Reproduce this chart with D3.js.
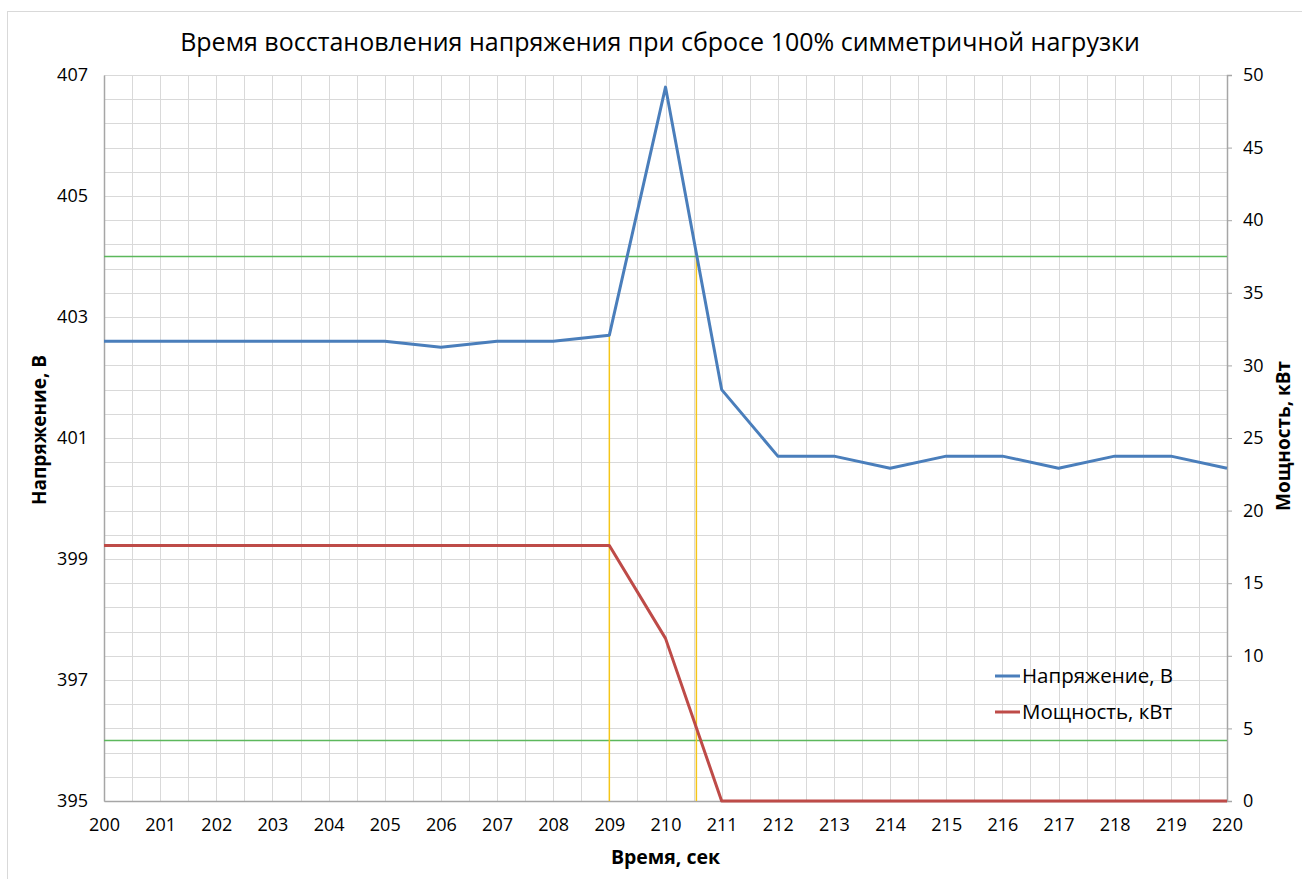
<!DOCTYPE html>
<html>
<head>
<meta charset="utf-8">
<title>Время восстановления напряжения</title>
<script src="https://d3js.org/d3.v7.min.js"></script>
<style>
  body { margin: 0; background: #fff; }
  svg text { font-family: "Open Sans", "Noto Sans", sans-serif; fill: #000; }
</style>
</head>
<body>
<div id="chart"></div>
<script>
// data
const times = [200, 201, 202, 203, 204, 205, 206, 207, 208, 209, 210,
               211, 212, 213, 214, 215, 216, 217, 218, 219, 220];
const voltage = [402.6, 402.6, 402.6, 402.6, 402.6, 402.6, 402.5, 402.6, 402.6, 402.7, 406.8,
                 401.8, 400.7, 400.7, 400.5, 400.7, 400.7, 400.5, 400.7, 400.7, 400.5];
const power = [17.6, 17.6, 17.6, 17.6, 17.6, 17.6, 17.6, 17.6, 17.6, 17.6, 11.2,
               0, 0, 0, 0, 0, 0, 0, 0, 0, 0];
const limitsV = [404, 396];          // green lines, +-1%
const markers = [                    // yellow verticals: time, top voltage
  { t: 209, v: 402.7 },
  { t: 210.55, v: 404 }
];
const voltTicks = [395, 397, 399, 401, 403, 405, 407];
const powerTicks = [0, 5, 10, 15, 20, 25, 30, 35, 40, 45, 50];
const timeTicks = d3.range(200, 221, 1);
const seriesNames = ["Напряжение, В", "Мощность, кВт"];

const W = 1302, H = 879;
const m = { top: 75, right: 75, bottom: 78, left: 104 };
const iw = W - m.left - m.right, ih = H - m.top - m.bottom;

const svg = d3.select("#chart").append("svg")
  .attr("width", W).attr("height", H);

// chart area frame
svg.append("rect")
  .attr("x", 7.5).attr("y", 11.5)
  .attr("width", W).attr("height", H)
  .attr("fill", "none").attr("stroke", "#d9d9d9");

const g = svg.append("g").attr("transform", `translate(${m.left},${m.top})`);

const x = d3.scaleLinear().domain([200, 220]).range([0, iw]);
const yV = d3.scaleLinear().domain([395, 407]).range([ih, 0]);
const yP = d3.scaleLinear().domain([0, 50]).range([ih, 0]);

// grid
g.append("g").attr("class", "grid")
  .selectAll("line.v").data(d3.range(200, 220.01, 0.5)).enter()
  .append("line")
  .attr("x1", d => Math.round(x(d)) + 0.5).attr("x2", d => Math.round(x(d)) + 0.5)
  .attr("y1", 0).attr("y2", ih)
  .attr("stroke", "#d9d9d9").attr("stroke-width", 1);
g.append("g").attr("class", "grid")
  .selectAll("line.h").data(d3.range(0, 31)).enter()
  .append("line")
  .attr("x1", 0).attr("x2", iw)
  .attr("y1", d => Math.round(yV(395 + d * 0.4)) + 0.5)
  .attr("y2", d => Math.round(yV(395 + d * 0.4)) + 0.5)
  .attr("stroke", "#d9d9d9").attr("stroke-width", 1);

// axes
const axisB = g.append("g").attr("transform", `translate(0,${ih})`)
  .call(d3.axisBottom(x).tickValues(timeTicks).tickFormat(d3.format("d")).tickSize(0).tickPadding(17));
const axisL = g.append("g")
  .call(d3.axisLeft(yV).tickValues(voltTicks).tickFormat(d3.format("d")).tickSize(0).tickPadding(16));
const axisR = g.append("g").attr("transform", `translate(${iw},0)`)
  .call(d3.axisRight(yP).tickValues(powerTicks).tickSize(5).tickPadding(11));
[axisB, axisL, axisR].forEach(a => {
  a.select(".domain").attr("stroke", "#a6a6a6").attr("stroke-width", 1.5);
  a.selectAll(".tick line").attr("stroke", "#a6a6a6");
  a.selectAll("text").attr("font-size", 18).attr("fill", "#000")
    .style("font-family", "'Open Sans', sans-serif");
});

// limit lines
g.selectAll("line.limit").data(limitsV).enter()
  .append("line")
  .attr("x1", 0).attr("x2", iw)
  .attr("y1", d => yV(d)).attr("y2", d => yV(d))
  .attr("stroke", "#5cb85c").attr("stroke-width", 1.5);

// marker lines
g.selectAll("line.marker").data(markers).enter()
  .append("line")
  .attr("x1", d => x(d.t)).attr("x2", d => x(d.t))
  .attr("y1", ih).attr("y2", d => yV(d.v))
  .attr("stroke", "#f5c518").attr("stroke-width", 1.5);

// series
const lineV = d3.line().x((d, i) => x(times[i])).y(d => yV(d));
const lineP = d3.line().x((d, i) => x(times[i])).y(d => yP(d));
g.append("path").datum(power)
  .attr("d", lineP).attr("fill", "none")
  .attr("stroke", "#be4b48").attr("stroke-width", 3).attr("stroke-linejoin", "round");
g.append("path").datum(voltage)
  .attr("d", lineV).attr("fill", "none")
  .attr("stroke", "#4a7ebb").attr("stroke-width", 3).attr("stroke-linejoin", "round");

// title
svg.append("text")
  .attr("x", 660).attr("y", 51)
  .attr("text-anchor", "middle").attr("font-size", 25)
  .text("Время восстановления напряжения при сбросе 100% симметричной нагрузки");

// axis titles
svg.append("text")
  .attr("x", m.left + iw / 2).attr("y", 864)
  .attr("text-anchor", "middle").attr("font-size", 19.5).attr("font-weight", "bold")
  .text("Время, сек");
svg.append("text")
  .attr("transform", `translate(46,${m.top + ih / 2 - 8}) rotate(-90)`)
  .attr("text-anchor", "middle").attr("font-size", 19).attr("font-weight", "bold")
  .text("Напряжение, В");
svg.append("text")
  .attr("transform", `translate(1290,${m.top + ih / 2 - 2}) rotate(-90)`)
  .attr("text-anchor", "middle").attr("font-size", 19).attr("font-weight", "bold")
  .text("Мощность, кВт");

// legend
const legend = svg.append("g").attr("transform", "translate(995,676)");
const legColors = ["#4a7ebb", "#be4b48"];
seriesNames.forEach((name, i) => {
  const row = legend.append("g").attr("transform", `translate(0,${i * 36})`);
  row.append("line").attr("x1", 0).attr("x2", 25).attr("y1", 0).attr("y2", 0)
    .attr("stroke", legColors[i]).attr("stroke-width", 3);
  row.append("text").attr("x", 27).attr("y", 0).attr("dy", "0.35em")
    .attr("font-size", 20.5).text(name);
});
</script>
</body>
</html>
